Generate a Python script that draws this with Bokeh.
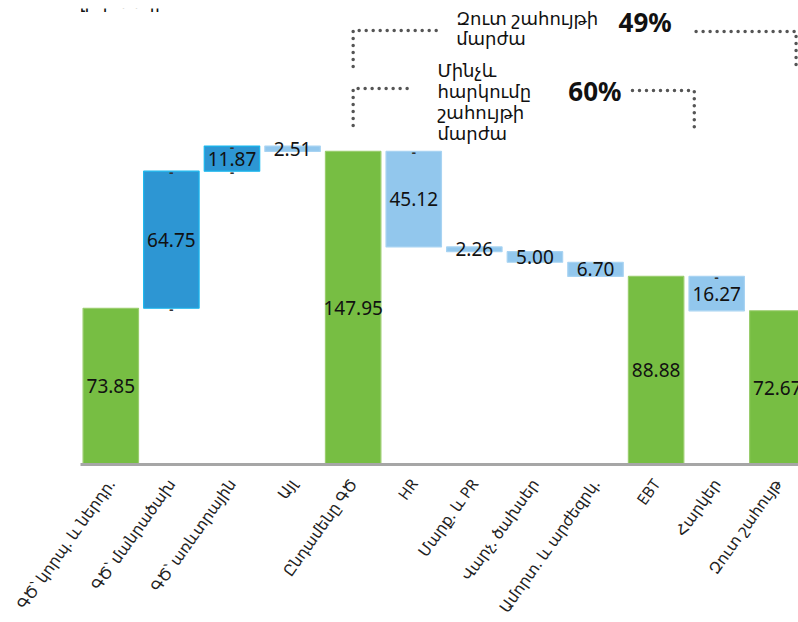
import math
from bokeh.plotting import figure
from bokeh.models import Range1d, FixedTicker, ColumnDataSource, Label, LabelSet
from bokeh.core.properties import value
from bokeh.embed import file_html
from bokeh.resources import INLINE

# ---- data ----
categories = ["ԳԾ՝ կորպ. և ներդր.", "ԳԾ՝ մանրածախ", "ԳԾ՝ առևտրային", "Այլ",
              "Ընդամենը ԳԾ", "HR", "Մարք. և PR", "Վարչ. ծախսեր",
              "Ամորտ. և արժեզրկ.", "EBT", "Հարկեր", "Զուտ շահույթ"]
amounts = [73.85, 64.75, 11.87, -2.51, 147.95, -45.12, -2.26, -5.00, -6.70, 88.88, -16.27, 72.67]
kinds = ["total", "up", "up", "down", "total", "down", "down", "down", "down", "total", "down", "total"]

unit_title = "Մլրդ ՀՀ դրամ"
net_margin_label = ["Զուտ շահույթի", "մարժա"]
net_margin_value = "49%"
pretax_margin_label = ["Մինչև", "հարկումը", "շահույթի", "մարժա"]
pretax_margin_value = "60%"

FONT = "Noto Sans, DejaVu Sans"
fill_colors = {"total": "#77BE43", "up": "#2D96D3", "down": "#92C7ED"}
edge_colors = {"total": "#9ACD6E", "up": "#17B7EE", "down": "#A8D3F2"}

# ---- waterfall geometry ----
xs, bottoms, tops, fills, edges, texts, mids = [], [], [], [], [], [], []
running = 0.0
for i, (a, k) in enumerate(zip(amounts, kinds)):
    if k == "total":
        b, t = 0.0, a
        running = a
    else:
        b, t = (running, running + a) if a > 0 else (running + a, running)
        running += a
    xs.append(i); bottoms.append(b); tops.append(t)
    fills.append(fill_colors[k]); edges.append(edge_colors[k])
    texts.append(f"{abs(a):.2f}"); mids.append((b + t) / 2)

src = ColumnDataSource(dict(x=xs, bottom=bottoms, top=tops, fill=fills, edge=edges,
                            text=texts, mid=mids))

p = figure(frame_width=718, frame_height=456,
           x_range=Range1d(-0.5, 11.35), y_range=Range1d(0, 215.5),
           output_backend="svg", toolbar_location=None,
           min_border_left=80, min_border_right=0, min_border_top=8,
           y_axis_location=None)
p.outline_line_color = None
p.xgrid.visible = False
p.ygrid.visible = False

p.vbar(x="x", bottom="bottom", top="top", width=0.915, fill_color="fill",
       line_color="edge", line_width=1.2, source=src)

p.text(x="x", y="mid", text="text", source=src, text_align="center",
       text_baseline="middle", text_font=value(FONT), text_font_size="19px",
       text_color="#111111")

# small dash marks
dx, dy = [], []
for i, k in enumerate(kinds):
    if k == "total":
        p.add_layout(Label(x=xs[i], y=0.0, y_offset=-5, text="-", text_align="center",
                           text_baseline="middle", text_font=FONT,
                           text_font_size="13px", text_font_style="bold",
                           text_color="#333333"))
    elif k == "up":
        dx += [xs[i], xs[i]]; dy += [tops[i], bottoms[i]]
    elif abs(amounts[i]) > 10:
        dx.append(xs[i]); dy.append(tops[i])
dsrc = ColumnDataSource(dict(x=dx, y=dy, t=["-"] * len(dx)))
p.add_layout(LabelSet(x="x", y="y", text="t", y_offset=-1, source=dsrc,
                      text_align="center", text_baseline="middle",
                      text_font=value(FONT), text_font_size="13px",
                      text_font_style="bold", text_color="#333333"))

# x axis
p.xaxis.ticker = FixedTicker(ticks=xs)
p.xaxis.major_label_overrides = {i: c for i, c in zip(xs, categories)}
p.xaxis.major_label_orientation = 0.95
p.xaxis.major_label_text_font = FONT
p.xaxis.major_label_text_font_size = "15.5px"
p.xaxis.major_label_text_color = "#222222"
p.xaxis.major_label_standoff = 10
p.xaxis.axis_line_color = "#A6A6A6"
p.xaxis.axis_line_width = 3
p.xaxis.major_tick_line_color = None
p.xaxis.minor_tick_line_color = None

# unit title (mostly above the visible area, as in the reference)
p.add_layout(Label(x=-0.75, y=219.2, text=unit_title,
                   text_align="left", text_baseline="alphabetic", text_font=FONT,
                   text_font_size="18px", text_color="#111111"))

# margin brackets (annotations)
dot = dict(line_color="#555555", line_width=3.5, line_dash="0 7", line_cap="round")
p.line([4.0, 4.0, 5.44], [188.1, 205.1, 205.1], **dot)
p.line([9.66, 11.31, 11.31], [204.6, 204.6, 187.1], **dot)
p.line([4.0, 4.0, 4.98], [160.2, 177.7, 177.7], **dot)
p.line([8.61, 9.63, 9.63], [176.7, 176.7, 157.8], **dot)

for j, line in enumerate(net_margin_label):
    p.add_layout(Label(x=5.70, y=211.2 - 9.6 * j, text=line, text_align="left",
                       text_baseline="middle", text_font=FONT,
                       text_font_size="18px", text_color="#111111"))
p.add_layout(Label(x=8.38, y=208.9, text=net_margin_value, text_align="left",
                   text_baseline="middle", text_font=FONT, text_font_style="bold",
                   text_font_size="26px", text_color="#111111"))
for j, line in enumerate(pretax_margin_label):
    p.add_layout(Label(x=5.39, y=186.2 - 9.9 * j, text=line, text_align="left",
                       text_baseline="middle", text_font=FONT,
                       text_font_size="18px", text_color="#111111"))
p.add_layout(Label(x=7.55, y=176.7, text=pretax_margin_value, text_align="left",
                   text_baseline="middle", text_font=FONT, text_font_style="bold",
                   text_font_size="26px", text_color="#111111"))

open("out.html", "w").write(file_html(p, INLINE))
